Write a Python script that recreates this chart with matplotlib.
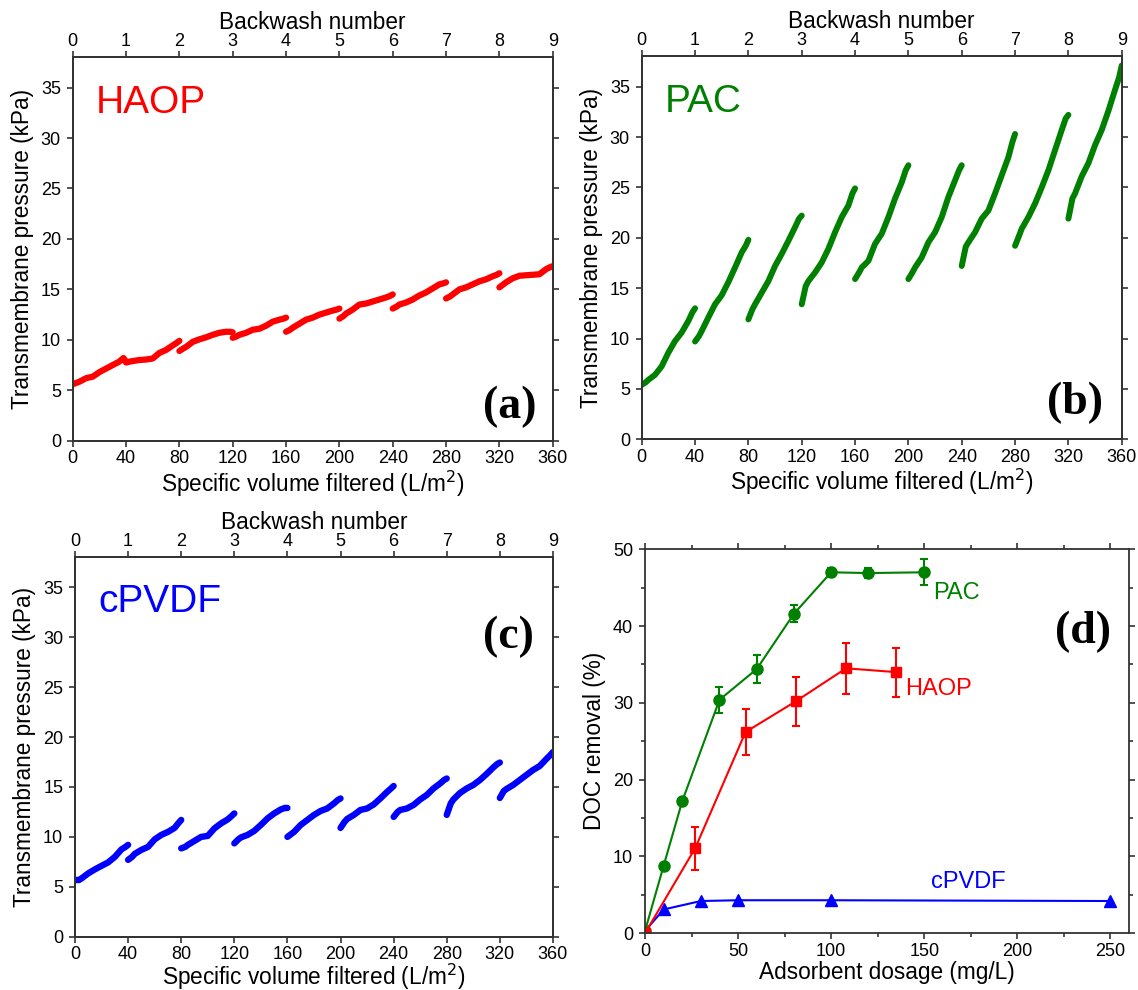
import numpy as np
import matplotlib
matplotlib.use("Agg")
import matplotlib.pyplot as plt

plt.rcParams['font.family'] = ['Liberation Sans', 'DejaVu Sans']

# filtration cycles: 40 L/m2 between backwashes, points read along each cycle
cycle_len = 40
offsets = [0, 3, 5, 10, 15, 20, 25, 30, 35, 38, 40]

haop_tmp = [
    [5.6, 5.75, 5.85, 6.2, 6.35, 6.8, 7.15, 7.5, 7.85, 8.2, 7.85],
    [7.75, 7.85, 7.9, 8.0, 8.05, 8.15, 8.7, 9.0, 9.45, 9.7, 9.9],
    [8.9, 9.15, 9.3, 9.8, 10.05, 10.25, 10.5, 10.7, 10.8, 10.8, 10.75],
    [10.2, 10.35, 10.5, 10.7, 11.0, 11.1, 11.4, 11.8, 12.0, 12.1, 12.2],
    [10.8, 11.0, 11.2, 11.6, 12.0, 12.2, 12.5, 12.7, 12.9, 13.0, 13.1],
    [12.1, 12.35, 12.6, 13.0, 13.5, 13.6, 13.8, 14.0, 14.2, 14.35, 14.5],
    [13.1, 13.3, 13.5, 13.7, 14.0, 14.4, 14.7, 15.1, 15.5, 15.6, 15.7],
    [14.1, 14.3, 14.5, 15.0, 15.2, 15.5, 15.8, 16.0, 16.3, 16.45, 16.6],
    [15.2, 15.5, 15.7, 16.1, 16.35, 16.4, 16.45, 16.5, 17.0, 17.2, 17.3],
]

pac_tmp = [
    [5.4, 5.65, 5.9, 6.4, 7.25, 8.6, 9.75, 10.6, 11.75, 12.6, 13.0],
    [9.7, 10.25, 10.75, 12.1, 13.4, 14.3, 15.6, 17.05, 18.55, 19.2, 19.8],
    [11.9, 12.9, 13.4, 14.55, 15.7, 17.2, 18.4, 19.7, 21.05, 21.9, 22.2],
    [13.4, 15.2, 15.7, 16.55, 17.55, 18.9, 20.55, 22.05, 23.2, 24.4, 24.9],
    [15.9, 16.55, 17.05, 17.7, 19.4, 20.4, 22.05, 23.9, 25.5, 26.7, 27.2],
    [15.9, 16.55, 17.05, 18.05, 19.55, 20.55, 22.05, 24.05, 25.7, 26.7, 27.2],
    [17.2, 19.1, 19.55, 20.55, 21.9, 22.7, 24.4, 26.2, 28.0, 29.5, 30.3],
    [19.2, 20.2, 20.9, 22.05, 23.4, 25.0, 26.7, 28.7, 30.7, 31.85, 32.2],
    [21.9, 23.9, 24.4, 26.1, 27.4, 29.2, 30.7, 32.6, 34.7, 35.9, 37.1],
]

cpvdf_tmp = [
    [5.68, 5.68, 5.85, 6.35, 6.75, 7.1, 7.45, 8.0, 8.75, 9.0, 9.2],
    [7.7, 8.0, 8.3, 8.7, 9.0, 9.75, 10.2, 10.5, 10.9, 11.4, 11.7],
    [8.85, 9.0, 9.2, 9.6, 10.0, 10.1, 10.85, 11.35, 11.75, 12.1, 12.35],
    [9.35, 9.75, 9.95, 10.2, 10.6, 11.2, 11.85, 12.35, 12.75, 12.9, 12.9],
    [10.0, 10.3, 10.5, 11.2, 11.7, 12.2, 12.6, 12.85, 13.35, 13.7, 13.85],
    [10.9, 11.5, 11.8, 12.2, 12.7, 12.85, 13.25, 13.85, 14.5, 14.85, 15.1],
    [12.0, 12.5, 12.7, 12.85, 13.2, 13.75, 14.2, 14.85, 15.35, 15.7, 15.85],
    [12.2, 13.35, 13.75, 14.4, 14.85, 15.2, 15.7, 16.3, 16.95, 17.3, 17.45],
    [13.9, 14.6, 14.8, 15.2, 15.7, 16.2, 16.7, 17.1, 17.8, 18.2, 18.5],
]

# DOC removal vs adsorbent dosage
pac_dose = [0, 10, 20, 40, 60, 80, 100, 120, 150]
pac_doc = [0.3, 8.8, 17.2, 30.4, 34.4, 41.6, 47.0, 46.9, 47.0]
pac_err = [0, 0, 0, 1.7, 1.8, 1.1, 0.6, 0.6, 1.7]
haop_dose = [0, 27, 54, 81, 108, 135]
haop_doc = [0, 11.1, 26.2, 30.2, 34.5, 34.0]
haop_err = [0, 2.8, 3.0, 3.2, 3.3, 3.2]
cpvdf_dose = [0, 10, 30, 50, 100, 250]
cpvdf_doc = [0.3, 3.1, 4.2, 4.3, 4.3, 4.2]

RED, GREEN, BLUE = '#ff0000', '#008000', '#0000ff'
SPINE = '#333333'
TICK_FS = 13
LABEL_FS = 16.3


def style_axes(ax):
    for s in ax.spines.values():
        s.set_color(SPINE)
        s.set_linewidth(1.3)
    ax.tick_params(which='both', direction='out', color=SPINE, width=1.2,
                   labelsize=TICK_FS)
    ax.tick_params(which='major', length=4.5)
    ax.tick_params(which='minor', length=3)
    ax.tick_params(axis='x', pad=2.4)
    ax.tick_params(axis='y', pad=4)


def tmp_panel(ax, segments, color, lw, name, tag, tag_xy, xpad=1):
    for k, seg in enumerate(segments):
        v = [k * cycle_len + o for o in offsets]
        ax.plot(v, seg, color=color, lw=lw, solid_capstyle='round',
                solid_joinstyle='round')
    ax.set_xlim(0, 360)
    ax.set_ylim(0, 38)
    ax.set_xticks(range(0, 361, 40))
    ax.set_yticks(range(0, 36, 5))
    ax.tick_params(right=True)
    style_axes(ax)
    ax.set_xlabel('Specific volume filtered (L/m$^2$)', fontsize=LABEL_FS,
                  labelpad=xpad)
    ax.set_ylabel('Transmembrane pressure (kPa)', fontsize=LABEL_FS, labelpad=5)
    top = ax.twiny()
    top.set_xlim(0, 9)
    top.set_xticks(range(0, 10))
    style_axes(top)
    top.tick_params(axis='x', pad=0.5)
    top.set_xlabel('Backwash number', fontsize=LABEL_FS, labelpad=3)
    ax.text(0.048, 0.855, name, transform=ax.transAxes, color=color,
            fontsize=28, va='baseline', ha='left')
    ax.text(tag_xy[0], tag_xy[1], tag, transform=ax.transAxes, ha='right',
            va='baseline', fontsize=33, fontweight='bold',
            family='Liberation Serif')


fig = plt.figure(figsize=(11.38, 9.9), dpi=100)
ax_a = fig.add_axes([0.0639, 0.5548, 0.4218, 0.3873])
ax_b = fig.add_axes([0.5639, 0.5563, 0.4218, 0.3867])
ax_c = fig.add_axes([0.0659, 0.0538, 0.4200, 0.3832])
ax_d = fig.add_axes([0.5668, 0.0573, 0.4253, 0.3879])

tmp_panel(ax_a, haop_tmp, RED, 4.5, 'HAOP', '(a)', (0.966, 0.058))
tmp_panel(ax_b, pac_tmp, GREEN, 4.3, 'PAC', '(b)', (0.961, 0.066))
tmp_panel(ax_c, cpvdf_tmp, BLUE, 4.6, 'cPVDF', '(c)', (0.960, 0.760), xpad=-1)

# panel (d)
ax_d.errorbar(pac_dose, pac_doc, yerr=pac_err, color=GREEN, marker='o', ms=8,
              lw=1.5, capsize=3, elinewidth=1.5, capthick=1.5)
ax_d.errorbar(haop_dose, haop_doc, yerr=haop_err, color=RED, marker='s', ms=7.5,
              lw=1.5, capsize=3, elinewidth=1.5, capthick=1.5)
ax_d.plot(cpvdf_dose, cpvdf_doc, color=BLUE, marker='^', ms=9, lw=1.5)
ax_d.set_xlim(0, 260)
ax_d.set_ylim(0, 50)
ax_d.set_xticks(range(0, 251, 50))
ax_d.set_xticks(range(25, 251, 50), minor=True)
ax_d.set_yticks(range(0, 51, 10))
ax_d.set_yticks(range(5, 50, 10), minor=True)
ax_d.tick_params(which='both', top=True, right=True)
style_axes(ax_d)
ax_d.set_xlabel('Adsorbent dosage (mg/L)', fontsize=LABEL_FS, labelpad=1)
ax_d.set_ylabel('DOC removal (%)', fontsize=LABEL_FS, labelpad=5)
ax_d.text(154.8, 43.5, 'PAC', color=GREEN, fontsize=17, va='baseline')
ax_d.text(139.8, 31.0, 'HAOP', color=RED, fontsize=17, va='baseline')
ax_d.text(153.8, 5.9, 'cPVDF', color=BLUE, fontsize=17, va='baseline')
ax_d.text(0.9625, 0.755, '(d)', transform=ax_d.transAxes, ha='right',
          va='baseline', fontsize=33, fontweight='bold', family='Liberation Serif')

fig.savefig('out.png', dpi=100)
